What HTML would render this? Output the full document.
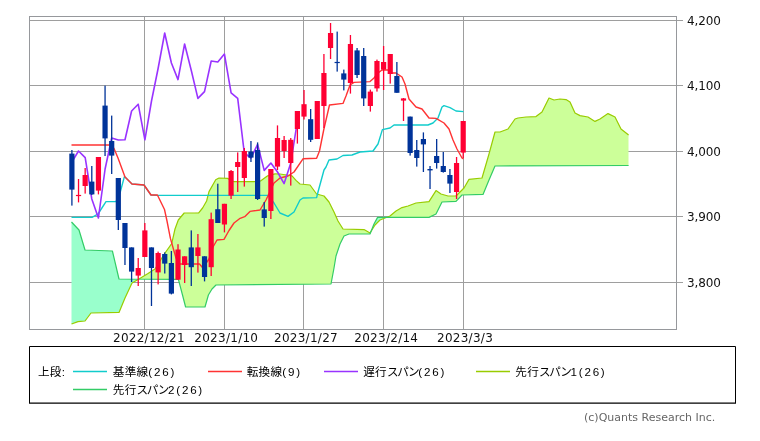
<!DOCTYPE html>
<html lang="ja"><head><meta charset="utf-8"><title>chart</title>
<style>
html,body{margin:0;padding:0;background:#fff;}
svg{display:block;}
.num{font-family:"DejaVu Sans","Liberation Sans",sans-serif;font-size:12px;fill:#111;}
.yl{letter-spacing:-0.15px;}
.xl{letter-spacing:0.27px;}
.jp{font-family:"Liberation Sans","Noto Sans CJK JP","IPAGothic",sans-serif;font-size:11.6px;fill:#000;letter-spacing:0.25px;}
.kt{letter-spacing:-1.3px;}
.lt{letter-spacing:1.8px;}
.cp{font-family:"DejaVu Sans","Liberation Sans",sans-serif;font-size:11px;fill:#666;}
</style></head><body>
<svg width="760" height="441" viewBox="0 0 760 441">
<rect x="0" y="0" width="760" height="441" fill="#fff"/>
<g shape-rendering="crispEdges">
<rect x="30" y="20" width="653" height="1" fill="#9e9e9e"/>
<rect x="30" y="85" width="653" height="1" fill="#9e9e9e"/>
<rect x="30" y="151" width="653" height="1" fill="#9e9e9e"/>
<rect x="30" y="216" width="653" height="1" fill="#9e9e9e"/>
<rect x="30" y="282" width="653" height="1" fill="#9e9e9e"/>
<rect x="144" y="17" width="1" height="312" fill="#9e9e9e"/>
<rect x="224" y="17" width="1" height="312" fill="#9e9e9e"/>
<rect x="303" y="17" width="1" height="312" fill="#9e9e9e"/>
<rect x="383" y="17" width="1" height="312" fill="#9e9e9e"/>
<rect x="463" y="17" width="1" height="312" fill="#9e9e9e"/>
</g>
<g>
<polygon fill="#99ffcc" points="71.5,324.0 72.0,323.8 72.5,323.6 73.0,323.4 73.5,323.3 74.0,323.1 74.5,322.9 75.0,322.7 75.5,322.5 76.0,322.3 76.5,322.2 77.0,322.0 77.5,321.8 78.0,321.6 78.5,321.6 79.0,321.5 79.5,321.5 80.0,321.4 80.5,321.4 81.0,321.3 81.5,321.3 82.0,321.3 82.5,321.2 83.0,321.2 83.5,321.1 84.0,321.1 84.5,321.0 85.0,321.0 85.5,320.3 86.0,319.7 86.5,319.0 87.0,318.3 87.5,317.7 88.0,317.0 88.5,316.3 89.0,315.7 89.5,315.0 90.0,314.3 90.5,313.7 91.0,313.0 91.5,313.0 92.0,313.0 92.5,313.0 93.0,313.0 93.5,312.9 94.0,312.9 94.5,312.9 95.0,312.9 95.5,312.9 96.0,312.9 96.5,312.9 97.0,312.9 97.5,312.9 98.0,312.9 98.5,312.8 99.0,312.8 99.5,312.8 100.0,312.8 100.5,312.8 101.0,312.8 101.5,312.8 102.0,312.8 102.5,312.8 103.0,312.7 103.5,312.7 104.0,312.7 104.5,312.7 105.0,312.7 105.5,312.7 106.0,312.7 106.5,312.7 107.0,312.7 107.5,312.6 108.0,312.6 108.5,312.6 109.0,312.6 109.5,312.6 110.0,312.6 110.5,312.6 111.0,312.6 111.5,312.6 112.0,312.5 112.5,312.5 113.0,312.5 113.5,312.5 114.0,312.5 114.5,312.5 115.0,312.5 115.5,312.5 116.0,312.5 116.5,312.5 117.0,312.4 117.5,312.4 118.0,312.4 118.5,312.4 119.0,312.4 119.5,311.2 120.0,310.0 120.5,308.8 121.0,307.6 121.5,306.4 122.0,305.2 122.5,304.0 123.0,302.8 123.5,301.6 124.0,300.4 124.5,299.2 125.0,298.0 125.5,296.9 126.0,295.9 126.5,294.8 127.0,293.7 127.5,292.6 128.0,291.6 128.5,290.5 129.0,289.4 129.5,288.4 130.0,287.3 130.5,286.2 131.0,285.1 131.5,284.1 132.0,283.0 132.5,282.7 133.0,282.4 133.5,282.1 134.0,281.9 134.5,281.6 135.0,281.3 135.5,281.0 136.0,280.7 136.5,280.4 137.0,280.1 137.5,279.9 138.0,279.6 138.5,279.3 138.5,279.1 138.0,279.1 137.5,279.1 137.0,279.1 136.5,279.1 136.0,279.1 135.5,279.1 135.0,279.1 134.5,279.1 134.0,279.1 133.5,279.1 133.0,279.1 132.5,279.1 132.0,279.1 131.5,279.1 131.0,279.1 130.5,279.1 130.0,279.1 129.5,279.1 129.0,279.1 128.5,279.0 128.0,279.0 127.5,279.0 127.0,279.0 126.5,279.0 126.0,279.0 125.5,279.0 125.0,279.0 124.5,279.0 124.0,279.0 123.5,279.0 123.0,279.0 122.5,279.0 122.0,279.0 121.5,279.0 121.0,279.0 120.5,279.0 120.0,279.0 119.5,279.0 119.0,279.0 118.5,276.9 118.0,274.8 117.5,272.6 117.0,270.5 116.5,268.4 116.0,266.3 115.5,264.2 115.0,262.0 114.5,259.9 114.0,257.8 113.5,255.7 113.0,253.5 112.5,251.4 112.0,251.0 111.5,251.0 111.0,250.9 110.5,250.9 110.0,250.9 109.5,250.9 109.0,250.9 108.5,250.9 108.0,250.8 107.5,250.8 107.0,250.8 106.5,250.8 106.0,250.8 105.5,250.7 105.0,250.7 104.5,250.7 104.0,250.7 103.5,250.7 103.0,250.7 102.5,250.6 102.0,250.6 101.5,250.6 101.0,250.6 100.5,250.6 100.0,250.5 99.5,250.5 99.0,250.5 98.5,250.5 98.0,250.5 97.5,250.5 97.0,250.4 96.5,250.4 96.0,250.4 95.5,250.4 95.0,250.4 94.5,250.3 94.0,250.3 93.5,250.3 93.0,250.3 92.5,250.3 92.0,250.3 91.5,250.2 91.0,250.2 90.5,250.2 90.0,250.2 89.5,250.2 89.0,250.1 88.5,250.1 88.0,250.1 87.5,250.1 87.0,250.1 86.5,250.1 86.0,250.0 85.5,250.0 85.0,250.0 84.5,248.3 84.0,246.7 83.5,245.0 83.0,243.3 82.5,241.7 82.0,240.0 81.5,238.3 81.0,236.7 80.5,235.0 80.0,233.3 79.5,231.7 79.0,230.0 78.5,229.5 78.0,228.9 77.5,228.4 77.0,227.9 76.5,227.3 76.0,226.8 75.5,226.3 75.0,225.7 74.5,225.2 74.0,224.7 73.5,224.1 73.0,223.6 72.5,223.1 72.0,222.5 71.5,222.0"/>
<polygon fill="#ccff99" points="138.5,279.3 139.0,279.0 139.5,278.7 140.0,278.4 140.5,278.1 141.0,277.8 141.5,277.5 142.0,277.2 142.5,276.9 143.0,276.6 143.5,276.3 144.0,276.0 144.5,275.7 145.0,275.4 145.5,275.1 146.0,274.8 146.5,274.5 147.0,274.2 147.5,273.9 148.0,273.6 148.5,273.3 149.0,272.9 149.5,272.6 150.0,272.3 150.5,272.0 151.0,271.6 151.5,271.3 152.0,271.0 152.5,270.6 153.0,270.3 153.5,270.0 154.0,269.7 154.5,269.3 155.0,269.0 155.5,268.2 156.0,267.4 156.5,266.6 157.0,265.8 157.5,265.0 158.0,264.2 158.5,263.4 159.0,262.6 159.5,261.8 160.0,261.0 160.5,260.2 161.0,259.4 161.5,258.6 162.0,257.8 162.5,257.0 163.0,256.2 163.5,255.4 164.0,254.6 164.5,253.8 165.0,253.0 165.5,252.3 166.0,251.6 166.5,250.9 167.0,250.2 167.5,249.5 168.0,248.8 168.5,248.1 169.0,247.4 169.5,246.8 170.0,246.1 170.5,245.4 171.0,244.7 171.5,244.0 172.0,242.4 172.5,240.1 173.0,237.9 173.5,235.7 174.0,233.5 174.5,231.2 175.0,229.0 175.5,227.6 176.0,226.3 176.5,224.9 177.0,223.5 177.5,222.2 178.0,220.8 178.5,219.8 179.0,219.2 179.5,218.6 180.0,218.0 180.5,217.4 181.0,216.8 181.5,216.2 182.0,215.6 182.5,215.0 183.0,214.4 183.5,213.8 184.0,213.2 184.5,213.0 185.0,213.0 185.5,213.0 186.0,213.0 186.5,213.0 187.0,213.0 187.5,213.0 188.0,212.9 188.5,212.9 189.0,212.9 189.5,212.9 190.0,212.9 190.5,212.9 191.0,212.9 191.5,212.9 192.0,212.9 192.5,212.9 193.0,212.9 193.5,212.9 194.0,212.9 194.5,212.9 195.0,212.9 195.5,212.8 196.0,212.8 196.5,212.8 197.0,212.8 197.5,212.8 198.0,212.8 198.5,212.8 199.0,212.4 199.5,211.8 200.0,211.2 200.5,210.6 201.0,210.0 201.5,209.4 202.0,208.7 202.5,208.1 203.0,207.3 203.5,206.4 204.0,205.5 204.5,204.7 205.0,203.8 205.5,202.9 206.0,202.0 206.5,201.2 207.0,199.4 207.5,197.5 208.0,195.5 208.5,193.6 209.0,191.6 209.5,190.7 210.0,189.8 210.5,188.9 211.0,188.0 211.5,187.2 212.0,186.3 212.5,185.4 213.0,184.5 213.5,183.6 214.0,182.7 214.5,181.8 215.0,180.9 215.5,180.1 216.0,179.5 216.5,179.3 217.0,179.0 217.5,178.8 218.0,178.5 218.5,178.3 219.0,178.0 219.5,178.0 220.0,178.0 220.5,178.1 221.0,178.1 221.5,178.1 222.0,178.1 222.5,178.2 223.0,178.2 223.5,178.2 224.0,178.2 224.5,178.3 225.0,178.3 225.5,178.3 226.0,178.3 226.5,178.3 227.0,178.4 227.5,178.4 228.0,178.6 228.5,178.9 229.0,179.1 229.5,179.4 230.0,179.6 230.5,179.9 231.0,180.2 231.5,180.4 232.0,180.7 232.5,180.9 233.0,181.2 233.5,181.4 234.0,181.7 234.5,181.7 235.0,181.7 235.5,181.7 236.0,181.7 236.5,181.7 237.0,181.7 237.5,181.7 238.0,181.7 238.5,181.7 239.0,181.7 239.5,181.7 240.0,181.7 240.5,181.7 241.0,181.7 241.5,181.7 242.0,181.7 242.5,181.7 243.0,181.7 243.5,181.7 244.0,181.7 244.5,181.7 245.0,181.7 245.5,181.7 246.0,181.7 246.5,181.7 247.0,181.7 247.5,181.7 248.0,181.7 248.5,181.7 249.0,181.7 249.5,181.7 250.0,181.7 250.5,181.7 251.0,181.7 251.5,181.7 252.0,181.7 252.5,181.7 253.0,181.7 253.5,181.7 254.0,181.7 254.5,181.6 255.0,181.6 255.5,181.5 256.0,181.5 256.5,181.4 257.0,181.4 257.5,181.3 258.0,181.3 258.5,181.2 259.0,181.2 259.5,181.1 260.0,181.1 260.5,181.0 261.0,180.6 261.5,180.3 262.0,179.9 262.5,179.6 263.0,179.2 263.5,178.8 264.0,178.5 264.5,178.1 265.0,177.8 265.5,177.4 266.0,177.0 266.5,176.7 267.0,176.3 267.5,175.9 268.0,175.7 268.5,175.6 269.0,175.4 269.5,175.3 270.0,175.2 270.5,175.0 271.0,174.9 271.5,174.8 272.0,174.6 272.5,174.5 273.0,174.3 273.5,174.2 274.0,174.1 274.5,173.9 275.0,173.8 275.5,173.8 276.0,173.8 276.5,173.9 277.0,173.9 277.5,173.9 278.0,173.9 278.5,173.9 279.0,174.0 279.5,174.0 280.0,174.0 280.5,174.1 281.0,174.2 281.5,174.2 282.0,174.3 282.5,174.4 283.0,174.4 283.5,174.5 284.0,174.6 284.5,174.7 285.0,174.8 285.5,174.8 286.0,174.9 286.5,175.0 287.0,175.1 287.5,175.1 288.0,175.2 288.5,175.3 289.0,175.4 289.5,175.4 290.0,175.5 290.5,175.6 291.0,175.7 291.5,175.7 292.0,175.8 292.5,176.4 293.0,177.0 293.5,177.5 294.0,178.1 294.5,178.7 295.0,179.2 295.5,179.8 296.0,180.4 296.5,180.8 297.0,181.3 297.5,181.8 298.0,182.2 298.5,182.7 299.0,183.1 299.5,183.6 300.0,184.0 300.5,184.1 301.0,184.1 301.5,184.2 302.0,184.2 302.5,184.2 303.0,184.3 303.5,184.3 304.0,184.4 304.5,184.4 305.0,184.5 305.5,184.6 306.0,184.6 306.5,184.7 307.0,184.7 307.5,184.8 308.0,184.8 308.5,184.8 309.0,184.9 309.5,184.9 310.0,185.0 310.5,185.7 311.0,186.4 311.5,187.0 312.0,187.7 312.5,188.4 313.0,189.1 313.5,189.8 314.0,190.5 314.5,191.1 315.0,191.8 315.5,192.5 316.0,193.2 316.5,193.9 317.0,194.1 317.5,194.2 318.0,194.4 318.5,194.5 319.0,194.6 319.5,194.8 320.0,194.9 320.5,195.1 321.0,195.2 321.5,195.3 322.0,195.5 322.5,195.6 323.0,195.7 323.5,195.9 324.0,196.0 324.5,196.6 325.0,197.2 325.5,197.8 326.0,198.4 326.5,199.0 327.0,199.6 327.5,200.2 328.0,200.8 328.5,201.4 329.0,202.0 329.5,203.0 330.0,204.0 330.5,205.0 331.0,206.0 331.5,207.0 332.0,208.0 332.5,209.0 333.0,210.0 333.5,211.0 334.0,212.0 334.5,213.1 335.0,214.2 335.5,215.4 336.0,216.5 336.5,217.6 337.0,218.8 337.5,219.9 338.0,221.0 338.5,221.8 339.0,222.6 339.5,223.4 340.0,224.2 340.5,225.0 341.0,225.8 341.5,226.6 342.0,227.4 342.5,228.2 343.0,229.0 343.5,229.0 344.0,229.0 344.5,229.0 345.0,229.1 345.5,229.1 346.0,229.1 346.5,229.1 347.0,229.1 347.5,229.1 348.0,229.1 348.5,229.2 349.0,229.2 349.5,229.2 350.0,229.2 350.5,229.2 351.0,229.2 351.5,229.2 352.0,229.3 352.5,229.3 353.0,229.3 353.5,229.3 354.0,229.3 354.5,229.3 355.0,229.3 355.5,229.4 356.0,229.4 356.5,229.4 357.0,229.4 357.5,229.4 358.0,229.4 358.5,229.4 359.0,229.5 359.5,229.5 360.0,229.5 360.5,229.5 361.0,229.5 361.5,229.5 362.0,229.5 362.5,229.6 363.0,229.6 363.5,229.6 364.0,229.6 364.5,229.9 365.0,230.2 365.5,230.4 366.0,230.7 366.5,231.0 367.0,231.3 367.5,231.6 368.0,231.9 368.5,232.2 369.0,232.4 369.5,232.7 370.0,233.0 370.5,232.2 371.0,231.4 371.0,231.5 370.5,232.8 370.0,234.0 369.5,234.0 369.0,234.0 368.5,234.0 368.0,234.0 367.5,234.0 367.0,234.0 366.5,234.0 366.0,234.0 365.5,234.0 365.0,234.0 364.5,234.0 364.0,234.0 363.5,234.0 363.0,234.0 362.5,234.0 362.0,234.0 361.5,234.0 361.0,234.0 360.5,234.0 360.0,234.0 359.5,234.0 359.0,234.0 358.5,234.0 358.0,234.0 357.5,234.0 357.0,234.0 356.5,234.0 356.0,234.0 355.5,234.0 355.0,234.0 354.5,234.0 354.0,234.0 353.5,234.0 353.0,234.0 352.5,234.0 352.0,234.0 351.5,234.0 351.0,234.0 350.5,234.0 350.0,234.0 349.5,234.0 349.0,234.0 348.5,234.2 348.0,234.4 347.5,234.6 347.0,234.8 346.5,235.0 346.0,235.2 345.5,235.4 345.0,235.6 344.5,235.8 344.0,236.0 343.5,237.0 343.0,238.0 342.5,239.0 342.0,240.0 341.5,241.0 341.0,242.0 340.5,243.0 340.0,244.0 339.5,245.5 339.0,247.0 338.5,248.5 338.0,250.0 337.5,251.5 337.0,253.0 336.5,254.5 336.0,256.0 335.5,259.0 335.0,262.0 334.5,265.0 334.0,268.0 333.5,270.7 333.0,273.3 332.5,276.0 332.0,278.7 331.5,281.3 331.0,284.0 330.5,284.0 330.0,284.0 329.5,284.0 329.0,284.0 328.5,284.0 328.0,284.0 327.5,284.0 327.0,284.0 326.5,284.0 326.0,284.0 325.5,284.0 325.0,284.1 324.5,284.1 324.0,284.1 323.5,284.1 323.0,284.1 322.5,284.1 322.0,284.1 321.5,284.1 321.0,284.1 320.5,284.1 320.0,284.1 319.5,284.1 319.0,284.1 318.5,284.1 318.0,284.1 317.5,284.1 317.0,284.1 316.5,284.1 316.0,284.1 315.5,284.1 315.0,284.1 314.5,284.1 314.0,284.1 313.5,284.2 313.0,284.2 312.5,284.2 312.0,284.2 311.5,284.2 311.0,284.2 310.5,284.2 310.0,284.2 309.5,284.2 309.0,284.2 308.5,284.2 308.0,284.2 307.5,284.2 307.0,284.2 306.5,284.2 306.0,284.2 305.5,284.2 305.0,284.2 304.5,284.2 304.0,284.2 303.5,284.2 303.0,284.2 302.5,284.2 302.0,284.3 301.5,284.3 301.0,284.3 300.5,284.3 300.0,284.3 299.5,284.3 299.0,284.3 298.5,284.3 298.0,284.3 297.5,284.3 297.0,284.3 296.5,284.3 296.0,284.3 295.5,284.3 295.0,284.3 294.5,284.3 294.0,284.3 293.5,284.3 293.0,284.3 292.5,284.3 292.0,284.3 291.5,284.3 291.0,284.3 290.5,284.4 290.0,284.4 289.5,284.4 289.0,284.4 288.5,284.4 288.0,284.4 287.5,284.4 287.0,284.4 286.5,284.4 286.0,284.4 285.5,284.4 285.0,284.4 284.5,284.4 284.0,284.4 283.5,284.4 283.0,284.4 282.5,284.4 282.0,284.4 281.5,284.4 281.0,284.4 280.5,284.4 280.0,284.4 279.5,284.4 279.0,284.5 278.5,284.5 278.0,284.5 277.5,284.5 277.0,284.5 276.5,284.5 276.0,284.5 275.5,284.5 275.0,284.5 274.5,284.5 274.0,284.5 273.5,284.5 273.0,284.5 272.5,284.5 272.0,284.5 271.5,284.5 271.0,284.5 270.5,284.5 270.0,284.5 269.5,284.5 269.0,284.5 268.5,284.5 268.0,284.5 267.5,284.6 267.0,284.6 266.5,284.6 266.0,284.6 265.5,284.6 265.0,284.6 264.5,284.6 264.0,284.6 263.5,284.6 263.0,284.6 262.5,284.6 262.0,284.6 261.5,284.6 261.0,284.6 260.5,284.6 260.0,284.6 259.5,284.6 259.0,284.6 258.5,284.6 258.0,284.6 257.5,284.6 257.0,284.6 256.5,284.6 256.0,284.7 255.5,284.7 255.0,284.7 254.5,284.7 254.0,284.7 253.5,284.7 253.0,284.7 252.5,284.7 252.0,284.7 251.5,284.7 251.0,284.7 250.5,284.7 250.0,284.7 249.5,284.7 249.0,284.7 248.5,284.7 248.0,284.7 247.5,284.7 247.0,284.7 246.5,284.7 246.0,284.7 245.5,284.7 245.0,284.7 244.5,284.8 244.0,284.8 243.5,284.8 243.0,284.8 242.5,284.8 242.0,284.8 241.5,284.8 241.0,284.8 240.5,284.8 240.0,284.8 239.5,284.8 239.0,284.8 238.5,284.8 238.0,284.8 237.5,284.8 237.0,284.8 236.5,284.8 236.0,284.8 235.5,284.8 235.0,284.8 234.5,284.8 234.0,284.8 233.5,284.8 233.0,284.9 232.5,284.9 232.0,284.9 231.5,284.9 231.0,284.9 230.5,284.9 230.0,284.9 229.5,284.9 229.0,284.9 228.5,284.9 228.0,284.9 227.5,284.9 227.0,284.9 226.5,284.9 226.0,284.9 225.5,284.9 225.0,284.9 224.5,284.9 224.0,284.9 223.5,284.9 223.0,284.9 222.5,284.9 222.0,284.9 221.5,285.0 221.0,285.0 220.5,285.0 220.0,285.0 219.5,285.0 219.0,285.0 218.5,285.0 218.0,285.0 217.5,285.0 217.0,285.0 216.5,285.0 216.0,285.0 215.5,285.5 215.0,286.0 214.5,286.5 214.0,287.0 213.5,287.5 213.0,288.0 212.5,288.5 212.0,289.0 211.5,289.8 211.0,290.7 210.5,291.5 210.0,292.3 209.5,293.2 209.0,294.0 208.5,294.8 208.0,296.4 207.5,298.2 207.0,299.9 206.5,301.7 206.0,303.5 205.5,305.2 205.0,307.0 204.5,307.0 204.0,307.0 203.5,307.0 203.0,307.0 202.5,307.0 202.0,307.0 201.5,307.0 201.0,307.0 200.5,307.0 200.0,307.0 199.5,307.0 199.0,307.0 198.5,307.0 198.0,307.0 197.5,307.0 197.0,307.0 196.5,307.0 196.0,307.0 195.5,307.0 195.0,307.0 194.5,307.0 194.0,307.0 193.5,307.0 193.0,307.0 192.5,307.0 192.0,307.0 191.5,307.0 191.0,307.0 190.5,307.0 190.0,307.0 189.5,307.0 189.0,307.0 188.5,307.0 188.0,307.0 187.5,307.0 187.0,307.0 186.5,307.0 186.0,307.0 185.5,306.6 185.0,304.7 184.5,302.7 184.0,300.8 183.5,298.9 183.0,296.9 182.5,295.0 182.0,293.1 181.5,291.2 181.0,289.3 180.5,287.3 180.0,285.4 179.5,283.5 179.0,281.6 178.5,279.7 178.0,279.3 177.5,279.3 177.0,279.3 176.5,279.3 176.0,279.3 175.5,279.3 175.0,279.3 174.5,279.3 174.0,279.3 173.5,279.3 173.0,279.3 172.5,279.3 172.0,279.3 171.5,279.3 171.0,279.3 170.5,279.3 170.0,279.3 169.5,279.3 169.0,279.3 168.5,279.2 168.0,279.2 167.5,279.2 167.0,279.2 166.5,279.2 166.0,279.2 165.5,279.2 165.0,279.2 164.5,279.2 164.0,279.2 163.5,279.2 163.0,279.2 162.5,279.2 162.0,279.2 161.5,279.2 161.0,279.2 160.5,279.2 160.0,279.2 159.5,279.2 159.0,279.2 158.5,279.2 158.0,279.2 157.5,279.2 157.0,279.2 156.5,279.2 156.0,279.2 155.5,279.2 155.0,279.2 154.5,279.2 154.0,279.2 153.5,279.2 153.0,279.2 152.5,279.2 152.0,279.2 151.5,279.2 151.0,279.2 150.5,279.2 150.0,279.2 149.5,279.2 149.0,279.2 148.5,279.1 148.0,279.1 147.5,279.1 147.0,279.1 146.5,279.1 146.0,279.1 145.5,279.1 145.0,279.1 144.5,279.1 144.0,279.1 143.5,279.1 143.0,279.1 142.5,279.1 142.0,279.1 141.5,279.1 141.0,279.1 140.5,279.1 140.0,279.1 139.5,279.1 139.0,279.1 138.5,279.1"/>
<polygon fill="#99ffcc" points="371.0,231.4 371.5,230.6 372.0,229.8 372.5,229.0 373.0,228.2 373.5,227.4 374.0,226.6 374.5,225.8 375.0,225.0 375.5,224.5 376.0,224.0 376.5,223.5 377.0,223.0 377.5,222.5 378.0,222.0 378.5,221.5 379.0,221.0 379.5,220.5 380.0,220.0 380.5,219.8 381.0,219.6 381.5,219.4 382.0,219.2 382.5,219.0 383.0,218.8 383.5,218.6 384.0,218.4 384.5,218.2 385.0,218.0 385.5,217.8 386.0,217.6 386.0,217.4 385.5,217.4 385.0,217.4 384.5,217.4 384.0,217.4 383.5,217.4 383.0,217.4 382.5,217.4 382.0,217.4 381.5,217.4 381.0,217.4 380.5,217.4 380.0,217.4 379.5,217.4 379.0,217.4 378.5,217.4 378.0,217.4 377.5,217.6 377.0,218.5 376.5,219.4 376.0,220.3 375.5,221.3 375.0,222.2 374.5,223.1 374.0,224.0 373.5,225.2 373.0,226.5 372.5,227.8 372.0,229.0 371.5,230.2 371.0,231.5"/>
<polygon fill="#ccff99" points="386.0,217.6 386.5,217.4 387.0,217.2 387.5,217.0 388.0,216.8 388.5,216.6 389.0,216.4 389.5,216.2 390.0,216.0 390.5,215.6 391.0,215.2 391.5,214.8 392.0,214.3 392.5,213.9 393.0,213.5 393.5,213.1 394.0,212.7 394.5,212.2 395.0,211.8 395.5,211.4 396.0,211.0 396.5,210.7 397.0,210.4 397.5,210.2 398.0,209.9 398.5,209.6 399.0,209.3 399.5,209.0 400.0,208.7 400.5,208.4 401.0,208.2 401.5,207.9 402.0,207.6 402.5,207.5 403.0,207.3 403.5,207.2 404.0,207.1 404.5,206.9 405.0,206.8 405.5,206.7 406.0,206.5 406.5,206.4 407.0,206.3 407.5,206.1 408.0,206.0 408.5,205.8 409.0,205.6 409.5,205.4 410.0,205.2 410.5,205.1 411.0,204.9 411.5,204.7 412.0,204.5 412.5,204.3 413.0,204.1 413.5,203.9 414.0,203.8 414.5,203.6 415.0,203.4 415.5,203.2 416.0,203.0 416.5,202.9 417.0,202.9 417.5,202.8 418.0,202.8 418.5,202.7 419.0,202.7 419.5,202.6 420.0,202.6 420.5,202.5 421.0,202.5 421.5,202.4 422.0,202.4 422.5,202.3 423.0,202.2 423.5,202.2 424.0,202.1 424.5,202.1 425.0,202.0 425.5,202.0 426.0,201.9 426.5,201.9 427.0,201.8 427.5,201.8 428.0,201.7 428.5,201.7 429.0,201.6 429.5,200.8 430.0,200.0 430.5,199.2 431.0,198.5 431.5,197.7 432.0,196.9 432.5,196.1 433.0,195.3 433.5,194.5 434.0,193.7 434.5,193.0 435.0,192.2 435.5,191.4 436.0,190.6 436.5,190.9 437.0,191.3 437.5,191.6 438.0,192.0 438.5,192.3 439.0,192.6 439.5,193.0 440.0,193.3 440.5,193.7 441.0,194.0 441.5,194.1 442.0,194.3 442.5,194.4 443.0,194.6 443.5,194.7 444.0,194.9 444.5,195.0 445.0,195.1 445.5,195.3 446.0,195.4 446.5,195.6 447.0,195.7 447.5,195.9 448.0,196.0 448.5,196.0 449.0,196.0 449.5,196.0 450.0,196.0 450.5,196.0 451.0,196.0 451.5,196.0 452.0,196.0 452.5,196.0 453.0,196.0 453.5,196.0 454.0,196.0 454.5,196.0 455.0,196.0 455.5,196.0 456.0,196.0 456.5,195.5 457.0,195.0 457.5,194.5 458.0,194.0 458.5,193.5 459.0,193.0 459.5,192.5 460.0,192.0 460.5,191.5 461.0,191.0 461.5,190.5 462.0,190.0 462.5,189.5 463.0,189.0 463.5,188.5 464.0,188.0 464.5,187.1 465.0,186.3 465.5,185.4 466.0,184.6 466.5,183.7 467.0,182.8 467.5,182.0 468.0,181.1 468.5,180.3 469.0,179.4 469.5,179.3 470.0,179.3 470.5,179.2 471.0,179.2 471.5,179.1 472.0,179.1 472.5,179.0 473.0,179.0 473.5,178.9 474.0,178.9 474.5,178.8 475.0,178.8 475.5,178.7 476.0,178.6 476.5,178.6 477.0,178.5 477.5,178.5 478.0,178.4 478.5,178.4 479.0,178.3 479.5,178.3 480.0,178.2 480.5,178.2 481.0,178.1 481.5,178.1 482.0,178.0 482.5,176.3 483.0,174.6 483.5,172.9 484.0,171.1 484.5,169.4 485.0,167.7 485.5,166.0 486.0,164.3 486.5,162.6 487.0,160.9 487.5,159.1 488.0,157.4 488.5,155.7 489.0,154.0 489.5,152.2 490.0,150.3 490.5,148.5 491.0,146.7 491.5,144.8 492.0,143.0 492.5,141.2 493.0,139.3 493.5,137.5 494.0,135.7 494.5,133.8 495.0,132.0 495.5,132.0 496.0,132.0 496.5,132.0 497.0,132.0 497.5,132.0 498.0,132.0 498.5,132.0 499.0,132.0 499.5,132.0 500.0,132.0 500.5,131.8 501.0,131.6 501.5,131.4 502.0,131.2 502.5,131.1 503.0,130.9 503.5,130.7 504.0,130.5 504.5,130.3 505.0,130.1 505.5,129.9 506.0,129.8 506.5,129.6 507.0,129.4 507.5,129.2 508.0,129.0 508.5,128.3 509.0,127.6 509.5,126.9 510.0,126.1 510.5,125.4 511.0,124.7 511.5,124.0 512.0,123.3 512.5,122.6 513.0,121.9 513.5,121.1 514.0,120.4 514.5,119.7 515.0,119.0 515.5,118.8 516.0,118.7 516.5,118.5 517.0,118.3 517.5,118.2 518.0,118.0 518.5,117.9 519.0,117.9 519.5,117.8 520.0,117.8 520.5,117.7 521.0,117.6 521.5,117.6 522.0,117.5 522.5,117.4 523.0,117.4 523.5,117.3 524.0,117.2 524.5,117.2 525.0,117.1 525.5,117.1 526.0,117.0 526.5,117.0 527.0,117.0 527.5,116.9 528.0,116.9 528.5,116.9 529.0,116.9 529.5,116.9 530.0,116.8 530.5,116.8 531.0,116.8 531.5,116.8 532.0,116.8 532.5,116.7 533.0,116.7 533.5,116.7 534.0,116.7 534.5,116.7 535.0,116.6 535.5,116.6 536.0,116.6 536.5,116.2 537.0,115.8 537.5,115.4 538.0,115.1 538.5,114.7 539.0,114.3 539.5,113.9 540.0,113.5 540.5,113.2 541.0,112.8 541.5,112.4 542.0,112.0 542.5,111.0 543.0,110.0 543.5,109.0 544.0,108.0 544.5,107.0 545.0,106.0 545.5,105.0 546.0,104.0 546.5,103.0 547.0,102.0 547.5,101.0 548.0,100.0 548.5,99.0 549.0,98.0 549.5,98.2 550.0,98.4 550.5,98.6 551.0,98.8 551.5,99.0 552.0,99.2 552.5,99.4 553.0,99.6 553.5,99.8 554.0,100.0 554.5,99.9 555.0,99.8 555.5,99.8 556.0,99.7 556.5,99.6 557.0,99.5 557.5,99.4 558.0,99.3 558.5,99.2 559.0,99.2 559.5,99.1 560.0,99.0 560.5,99.0 561.0,99.1 561.5,99.2 562.0,99.2 562.5,99.2 563.0,99.3 563.5,99.3 564.0,99.4 564.5,99.4 565.0,99.5 565.5,99.5 566.0,99.6 566.5,99.9 567.0,100.2 567.5,100.5 568.0,100.8 568.5,101.1 569.0,101.4 569.5,101.7 570.0,102.0 570.5,103.1 571.0,104.2 571.5,105.3 572.0,106.4 572.5,107.5 573.0,108.6 573.5,109.7 574.0,110.8 574.5,111.9 575.0,113.0 575.5,113.3 576.0,113.5 576.5,113.8 577.0,114.0 577.5,114.3 578.0,114.6 578.5,114.8 579.0,115.1 579.5,115.3 580.0,115.6 580.5,115.7 581.0,115.8 581.5,115.9 582.0,115.9 582.5,116.0 583.0,116.1 583.5,116.2 584.0,116.3 584.5,116.4 585.0,116.5 585.5,116.6 586.0,116.7 586.5,116.7 587.0,116.8 587.5,116.9 588.0,117.0 588.5,117.3 589.0,117.6 589.5,117.9 590.0,118.3 590.5,118.6 591.0,118.9 591.5,119.2 592.0,119.5 592.5,119.8 593.0,120.1 593.5,120.5 594.0,120.8 594.5,121.1 595.0,121.4 595.5,121.2 596.0,120.9 596.5,120.7 597.0,120.4 597.5,120.2 598.0,120.0 598.5,119.7 599.0,119.5 599.5,119.2 600.0,119.0 600.5,118.7 601.0,118.3 601.5,118.0 602.0,117.7 602.5,117.3 603.0,117.0 603.5,116.6 604.0,116.3 604.5,116.0 605.0,115.6 605.5,115.3 606.0,114.9 606.5,114.6 607.0,114.3 607.5,113.9 608.0,113.6 608.5,113.8 609.0,114.1 609.5,114.3 610.0,114.6 610.5,114.8 611.0,115.1 611.5,115.3 612.0,115.5 612.5,115.8 613.0,116.0 613.5,116.3 614.0,116.5 614.5,116.8 615.0,117.0 615.5,118.0 616.0,119.0 616.5,120.0 617.0,121.0 617.5,122.0 618.0,123.0 618.5,124.0 619.0,125.0 619.5,126.0 620.0,127.0 620.5,128.0 621.0,129.0 621.5,129.4 622.0,129.8 622.5,130.2 623.0,130.6 623.5,131.0 624.0,131.4 624.5,131.8 625.0,132.2 625.5,132.6 626.0,132.9 626.5,133.3 627.0,133.7 627.5,134.1 628.0,134.5 628.5,134.9 628.5,165.5 628.0,165.5 627.5,165.5 627.0,165.5 626.5,165.5 626.0,165.5 625.5,165.5 625.0,165.5 624.5,165.5 624.0,165.5 623.5,165.5 623.0,165.5 622.5,165.5 622.0,165.5 621.5,165.5 621.0,165.5 620.5,165.5 620.0,165.5 619.5,165.5 619.0,165.5 618.5,165.5 618.0,165.5 617.5,165.5 617.0,165.5 616.5,165.5 616.0,165.5 615.5,165.5 615.0,165.6 614.5,165.6 614.0,165.6 613.5,165.6 613.0,165.6 612.5,165.6 612.0,165.6 611.5,165.6 611.0,165.6 610.5,165.6 610.0,165.6 609.5,165.6 609.0,165.6 608.5,165.6 608.0,165.6 607.5,165.6 607.0,165.6 606.5,165.6 606.0,165.6 605.5,165.6 605.0,165.6 604.5,165.6 604.0,165.6 603.5,165.6 603.0,165.6 602.5,165.6 602.0,165.6 601.5,165.6 601.0,165.6 600.5,165.6 600.0,165.6 599.5,165.6 599.0,165.6 598.5,165.6 598.0,165.6 597.5,165.6 597.0,165.6 596.5,165.6 596.0,165.6 595.5,165.6 595.0,165.6 594.5,165.6 594.0,165.6 593.5,165.6 593.0,165.6 592.5,165.6 592.0,165.6 591.5,165.6 591.0,165.6 590.5,165.6 590.0,165.6 589.5,165.6 589.0,165.6 588.5,165.7 588.0,165.7 587.5,165.7 587.0,165.7 586.5,165.7 586.0,165.7 585.5,165.7 585.0,165.7 584.5,165.7 584.0,165.7 583.5,165.7 583.0,165.7 582.5,165.7 582.0,165.7 581.5,165.7 581.0,165.7 580.5,165.7 580.0,165.7 579.5,165.7 579.0,165.7 578.5,165.7 578.0,165.7 577.5,165.7 577.0,165.7 576.5,165.7 576.0,165.7 575.5,165.7 575.0,165.7 574.5,165.7 574.0,165.7 573.5,165.7 573.0,165.7 572.5,165.7 572.0,165.7 571.5,165.7 571.0,165.7 570.5,165.7 570.0,165.7 569.5,165.7 569.0,165.7 568.5,165.7 568.0,165.7 567.5,165.7 567.0,165.7 566.5,165.7 566.0,165.7 565.5,165.7 565.0,165.7 564.5,165.7 564.0,165.7 563.5,165.7 563.0,165.7 562.5,165.7 562.0,165.7 561.5,165.8 561.0,165.8 560.5,165.8 560.0,165.8 559.5,165.8 559.0,165.8 558.5,165.8 558.0,165.8 557.5,165.8 557.0,165.8 556.5,165.8 556.0,165.8 555.5,165.8 555.0,165.8 554.5,165.8 554.0,165.8 553.5,165.8 553.0,165.8 552.5,165.8 552.0,165.8 551.5,165.8 551.0,165.8 550.5,165.8 550.0,165.8 549.5,165.8 549.0,165.8 548.5,165.8 548.0,165.8 547.5,165.8 547.0,165.8 546.5,165.8 546.0,165.8 545.5,165.8 545.0,165.8 544.5,165.8 544.0,165.8 543.5,165.8 543.0,165.8 542.5,165.8 542.0,165.8 541.5,165.8 541.0,165.8 540.5,165.8 540.0,165.8 539.5,165.8 539.0,165.8 538.5,165.8 538.0,165.8 537.5,165.8 537.0,165.8 536.5,165.8 536.0,165.8 535.5,165.8 535.0,165.9 534.5,165.9 534.0,165.9 533.5,165.9 533.0,165.9 532.5,165.9 532.0,165.9 531.5,165.9 531.0,165.9 530.5,165.9 530.0,165.9 529.5,165.9 529.0,165.9 528.5,165.9 528.0,165.9 527.5,165.9 527.0,165.9 526.5,165.9 526.0,165.9 525.5,165.9 525.0,165.9 524.5,165.9 524.0,165.9 523.5,165.9 523.0,165.9 522.5,165.9 522.0,165.9 521.5,165.9 521.0,165.9 520.5,165.9 520.0,165.9 519.5,165.9 519.0,165.9 518.5,165.9 518.0,165.9 517.5,165.9 517.0,165.9 516.5,165.9 516.0,165.9 515.5,165.9 515.0,165.9 514.5,165.9 514.0,165.9 513.5,165.9 513.0,165.9 512.5,165.9 512.0,165.9 511.5,165.9 511.0,165.9 510.5,165.9 510.0,165.9 509.5,165.9 509.0,165.9 508.5,165.9 508.0,166.0 507.5,166.0 507.0,166.0 506.5,166.0 506.0,166.0 505.5,166.0 505.0,166.0 504.5,166.0 504.0,166.0 503.5,166.0 503.0,166.0 502.5,166.0 502.0,166.0 501.5,166.0 501.0,166.0 500.5,166.0 500.0,166.0 499.5,166.0 499.0,166.0 498.5,166.0 498.0,166.0 497.5,166.0 497.0,166.0 496.5,166.0 496.0,166.0 495.5,166.0 495.0,166.0 494.5,167.2 494.0,168.3 493.5,169.5 493.0,170.7 492.5,171.8 492.0,173.0 491.5,174.2 491.0,175.3 490.5,176.5 490.0,177.7 489.5,178.8 489.0,180.0 488.5,181.2 488.0,182.4 487.5,183.6 487.0,184.8 486.5,186.0 486.0,187.2 485.5,188.4 485.0,189.6 484.5,190.8 484.0,192.0 483.5,193.2 483.0,194.4 482.5,194.4 482.0,194.4 481.5,194.4 481.0,194.5 480.5,194.5 480.0,194.5 479.5,194.5 479.0,194.5 478.5,194.5 478.0,194.5 477.5,194.6 477.0,194.6 476.5,194.6 476.0,194.6 475.5,194.6 475.0,194.6 474.5,194.6 474.0,194.7 473.5,194.7 473.0,194.7 472.5,194.7 472.0,194.7 471.5,194.7 471.0,194.7 470.5,194.8 470.0,194.8 469.5,194.8 469.0,194.8 468.5,194.8 468.0,194.8 467.5,194.8 467.0,194.9 466.5,194.9 466.0,194.9 465.5,194.9 465.0,194.9 464.5,194.9 464.0,194.9 463.5,195.0 463.0,195.0 462.5,195.0 462.0,195.0 461.5,195.5 461.0,196.1 460.5,196.6 460.0,197.1 459.5,197.7 459.0,198.2 458.5,198.7 458.0,199.3 457.5,199.8 457.0,200.3 456.5,200.9 456.0,201.4 455.5,201.4 455.0,201.4 454.5,201.5 454.0,201.5 453.5,201.5 453.0,201.5 452.5,201.6 452.0,201.6 451.5,201.6 451.0,201.6 450.5,201.6 450.0,201.7 449.5,201.7 449.0,201.7 448.5,201.7 448.0,201.7 447.5,201.8 447.0,201.8 446.5,201.8 446.0,201.8 445.5,201.8 445.0,201.9 444.5,201.9 444.0,201.9 443.5,201.9 443.0,202.0 442.5,202.0 442.0,202.0 441.5,203.0 441.0,204.0 440.5,205.0 440.0,206.0 439.5,207.0 439.0,208.0 438.5,209.0 438.0,210.0 437.5,211.0 437.0,212.0 436.5,213.0 436.0,214.0 435.5,214.2 435.0,214.5 434.5,214.7 434.0,215.0 433.5,215.2 433.0,215.5 432.5,215.7 432.0,215.9 431.5,216.2 431.0,216.4 430.5,216.7 430.0,216.9 429.5,217.2 429.0,217.4 428.5,217.4 428.0,217.4 427.5,217.4 427.0,217.4 426.5,217.4 426.0,217.4 425.5,217.4 425.0,217.4 424.5,217.4 424.0,217.4 423.5,217.4 423.0,217.4 422.5,217.4 422.0,217.4 421.5,217.4 421.0,217.4 420.5,217.4 420.0,217.4 419.5,217.4 419.0,217.4 418.5,217.4 418.0,217.4 417.5,217.4 417.0,217.4 416.5,217.4 416.0,217.4 415.5,217.4 415.0,217.4 414.5,217.4 414.0,217.4 413.5,217.4 413.0,217.4 412.5,217.4 412.0,217.4 411.5,217.4 411.0,217.4 410.5,217.4 410.0,217.4 409.5,217.4 409.0,217.4 408.5,217.4 408.0,217.4 407.5,217.4 407.0,217.4 406.5,217.4 406.0,217.4 405.5,217.4 405.0,217.4 404.5,217.4 404.0,217.4 403.5,217.4 403.0,217.4 402.5,217.4 402.0,217.4 401.5,217.4 401.0,217.4 400.5,217.4 400.0,217.4 399.5,217.4 399.0,217.4 398.5,217.4 398.0,217.4 397.5,217.4 397.0,217.4 396.5,217.4 396.0,217.4 395.5,217.4 395.0,217.4 394.5,217.4 394.0,217.4 393.5,217.4 393.0,217.4 392.5,217.4 392.0,217.4 391.5,217.4 391.0,217.4 390.5,217.4 390.0,217.4 389.5,217.4 389.0,217.4 388.5,217.4 388.0,217.4 387.5,217.4 387.0,217.4 386.5,217.4 386.0,217.4"/>
</g>
<g shape-rendering="crispEdges">

<rect x="29.5" y="16.5" width="647.3" height="312.7" fill="none" stroke="#96989c" stroke-width="1"/>
</g>
<g>
<polyline fill="none" stroke="#99cc00" stroke-width="1.2" stroke-linejoin="round" points="71.5,324.0 78.0,321.6 85.0,321.0 91.0,313.0 119.0,312.4 125.0,298.0 132.0,283.0 139.0,279.0 148.0,273.6 155.0,269.0 165.0,253.0 171.7,243.7 175.0,229.0 178.3,220.0 184.2,213.0 198.7,212.8 202.6,208.0 206.6,201.0 209.0,191.6 215.7,179.7 219.0,178.0 227.6,178.4 234.0,181.7 254.0,181.7 260.5,181.0 267.7,175.8 275.0,173.8 280.0,174.0 292.0,175.8 296.0,180.4 300.0,184.0 310.0,185.0 316.6,194.0 324.0,196.0 329.0,202.0 334.0,212.0 338.0,221.0 343.0,229.0 364.0,229.6 370.0,233.0 375.0,225.0 380.0,220.0 390.0,216.0 396.0,211.0 402.0,207.6 408.0,206.0 416.0,203.0 429.0,201.6 436.0,190.6 441.0,194.0 448.0,196.0 456.0,196.0 464.0,188.0 469.0,179.4 482.0,178.0 489.0,154.0 495.0,132.0 500.0,132.0 508.0,129.0 515.0,119.0 518.0,118.0 526.0,117.0 536.0,116.6 542.0,112.0 549.0,98.0 554.0,100.0 560.0,99.0 566.0,99.6 570.0,102.0 575.0,113.0 580.0,115.6 588.0,117.0 595.0,121.4 600.0,119.0 608.0,113.6 615.0,117.0 621.0,129.0 628.6,135.0"/>
<polyline fill="none" stroke="#33cc66" stroke-width="1.2" stroke-linejoin="round" points="71.5,222.0 79.0,230.0 85.0,250.0 112.4,251.0 119.0,279.0 178.4,279.3 182.5,295.0 185.6,307.0 205.0,307.0 208.4,295.0 212.0,289.0 216.0,285.0 331.0,284.0 334.0,268.0 336.0,256.0 340.0,244.0 344.0,236.0 349.0,234.0 370.0,234.0 374.0,224.0 377.6,217.4 429.0,217.4 436.0,214.0 442.0,202.0 456.0,201.4 462.0,195.0 483.0,194.4 489.0,180.0 495.0,166.0 628.6,165.5"/>
<polyline fill="none" stroke="#11cccc" stroke-width="1.4" stroke-linejoin="round" points="71.5,217.4 92.0,217.4 98.0,214.0 106.0,201.6 116.0,201.6 120.0,193.0 124.4,176.6 125.0,177.0 132.0,184.0 144.0,185.0 151.0,195.0 157.4,195.4 268.0,195.4 274.0,203.0 280.0,213.0 288.0,216.4 294.0,212.0 300.0,200.0 303.0,198.0 316.6,197.6 318.0,192.0 324.0,170.0 326.0,167.0 329.0,160.0 337.0,159.0 343.0,155.5 352.0,155.0 360.0,152.0 373.0,151.0 378.0,144.0 382.4,129.6 390.0,128.0 394.0,125.0 428.0,125.0 433.0,123.0 438.0,118.0 442.0,107.0 444.0,105.6 450.0,107.6 456.0,111.0 463.5,111.6"/>
<polyline fill="none" stroke="#ff3333" stroke-width="1.4" stroke-linejoin="round" points="71.5,145.0 109.4,145.0 114.0,148.4 118.0,158.0 125.0,177.0 132.0,184.0 144.0,185.0 151.0,195.0 157.4,195.0 164.5,209.5 167.0,221.0 170.4,238.4 173.7,250.0 176.0,258.0 179.0,264.0 199.5,264.0 202.0,267.0 207.0,262.0 209.0,259.0 213.0,247.0 217.0,240.0 224.0,239.4 229.0,230.5 234.0,223.0 239.5,218.7 244.7,216.7 250.0,211.4 260.0,210.0 266.0,200.0 274.0,183.0 280.0,178.0 288.0,176.0 294.0,172.0 303.0,158.8 316.6,158.2 319.5,151.0 323.7,130.0 329.5,105.0 343.0,103.4 346.0,96.0 350.0,85.0 354.0,82.4 370.0,81.6 374.0,78.0 378.0,73.0 382.0,70.0 388.0,70.0 392.0,73.0 396.0,73.0 402.0,77.0 405.0,84.0 409.0,99.0 416.0,107.0 422.0,109.0 429.0,118.0 436.0,118.4 444.0,123.0 449.0,129.0 453.0,140.0 457.0,149.0 462.0,158.0 463.5,159.0"/>
<polyline fill="none" stroke="#9933ff" stroke-width="1.6" stroke-linejoin="round" points="71.9,162.0 78.5,151.0 85.2,157.6 91.8,199.0 98.4,218.0 105.1,169.0 111.7,138.0 118.3,140.0 125.0,139.8 131.6,111.0 138.2,104.2 144.9,139.8 151.5,101.0 158.1,68.5 164.7,33.0 171.4,63.0 178.0,79.6 184.6,44.0 191.3,70.5 197.9,98.4 204.5,91.6 211.2,61.0 217.8,62.0 224.4,54.0 231.1,92.8 237.7,98.4 244.3,153.0 251.0,158.0 257.6,144.4 264.2,170.4 270.9,163.0 277.5,172.0 284.1,183.6 290.8,163.0 297.4,121.0"/>
</g>
<g>
<rect x="71.25" y="150.0" width="1.3" height="55.6" fill="#003399"/>
<rect x="69.30" y="153.6" width="5.2" height="36.0" fill="#003399"/>
<rect x="77.88" y="179.0" width="1.3" height="23.4" fill="#ff0033"/>
<rect x="75.93" y="194.9" width="5.2" height="1.2" fill="#ff0033"/>
<rect x="84.51" y="168.0" width="1.3" height="25.6" fill="#ff0033"/>
<rect x="82.56" y="175.0" width="5.2" height="11.0" fill="#ff0033"/>
<rect x="91.15" y="166.0" width="1.3" height="29.0" fill="#003399"/>
<rect x="89.20" y="181.6" width="5.2" height="12.8" fill="#003399"/>
<rect x="97.78" y="157.0" width="1.3" height="37.4" fill="#ff0033"/>
<rect x="95.83" y="157.0" width="5.2" height="33.6" fill="#ff0033"/>
<rect x="104.41" y="85.6" width="1.3" height="70.4" fill="#003399"/>
<rect x="102.46" y="105.6" width="5.2" height="32.8" fill="#003399"/>
<rect x="111.04" y="115.6" width="1.3" height="58.4" fill="#003399"/>
<rect x="109.09" y="141.0" width="5.2" height="14.6" fill="#003399"/>
<rect x="117.67" y="178.0" width="1.3" height="52.0" fill="#003399"/>
<rect x="115.72" y="178.0" width="5.2" height="42.0" fill="#003399"/>
<rect x="124.31" y="223.0" width="1.3" height="42.0" fill="#003399"/>
<rect x="122.36" y="223.0" width="5.2" height="25.0" fill="#003399"/>
<rect x="130.94" y="247.4" width="1.3" height="34.6" fill="#003399"/>
<rect x="128.99" y="247.4" width="5.2" height="24.2" fill="#003399"/>
<rect x="137.57" y="258.0" width="1.3" height="28.0" fill="#ff0033"/>
<rect x="135.62" y="268.0" width="5.2" height="7.6" fill="#ff0033"/>
<rect x="144.20" y="223.0" width="1.3" height="34.0" fill="#ff0033"/>
<rect x="142.25" y="230.4" width="5.2" height="26.6" fill="#ff0033"/>
<rect x="150.83" y="247.4" width="1.3" height="58.6" fill="#003399"/>
<rect x="148.88" y="247.4" width="5.2" height="20.6" fill="#003399"/>
<rect x="157.47" y="251.6" width="1.3" height="32.8" fill="#ff0033"/>
<rect x="155.52" y="253.0" width="5.2" height="19.4" fill="#ff0033"/>
<rect x="164.10" y="252.4" width="1.3" height="21.1" fill="#003399"/>
<rect x="162.15" y="254.0" width="5.2" height="9.6" fill="#003399"/>
<rect x="170.73" y="251.0" width="1.3" height="43.4" fill="#003399"/>
<rect x="168.78" y="263.0" width="5.2" height="30.6" fill="#003399"/>
<rect x="177.36" y="244.2" width="1.3" height="35.5" fill="#ff0033"/>
<rect x="175.41" y="249.5" width="5.2" height="30.2" fill="#ff0033"/>
<rect x="183.99" y="256.3" width="1.3" height="26.7" fill="#ff0033"/>
<rect x="182.04" y="256.3" width="5.2" height="8.7" fill="#ff0033"/>
<rect x="190.63" y="230.4" width="1.3" height="55.6" fill="#003399"/>
<rect x="188.68" y="247.4" width="5.2" height="19.8" fill="#003399"/>
<rect x="197.26" y="234.0" width="1.3" height="38.6" fill="#ff0033"/>
<rect x="195.31" y="247.4" width="5.2" height="8.6" fill="#ff0033"/>
<rect x="203.89" y="256.3" width="1.3" height="25.1" fill="#003399"/>
<rect x="201.94" y="256.3" width="5.2" height="20.7" fill="#003399"/>
<rect x="210.52" y="212.6" width="1.3" height="63.4" fill="#ff0033"/>
<rect x="208.57" y="219.2" width="5.2" height="48.0" fill="#ff0033"/>
<rect x="217.15" y="183.7" width="1.3" height="39.3" fill="#003399"/>
<rect x="215.20" y="209.2" width="5.2" height="13.8" fill="#003399"/>
<rect x="223.79" y="203.8" width="1.3" height="28.6" fill="#ff0033"/>
<rect x="221.84" y="203.8" width="5.2" height="20.7" fill="#ff0033"/>
<rect x="230.42" y="170.0" width="1.3" height="29.0" fill="#ff0033"/>
<rect x="228.47" y="171.0" width="5.2" height="24.6" fill="#ff0033"/>
<rect x="237.05" y="152.4" width="1.3" height="39.6" fill="#ff0033"/>
<rect x="235.10" y="162.0" width="5.2" height="5.0" fill="#ff0033"/>
<rect x="243.68" y="148.0" width="1.3" height="38.6" fill="#ff0033"/>
<rect x="241.73" y="151.0" width="5.2" height="27.0" fill="#ff0033"/>
<rect x="250.31" y="141.0" width="1.3" height="21.0" fill="#003399"/>
<rect x="248.36" y="151.6" width="5.2" height="6.0" fill="#003399"/>
<rect x="256.95" y="142.4" width="1.3" height="57.6" fill="#003399"/>
<rect x="255.00" y="150.0" width="5.2" height="49.0" fill="#003399"/>
<rect x="263.58" y="202.0" width="1.3" height="24.6" fill="#003399"/>
<rect x="261.63" y="209.4" width="5.2" height="8.6" fill="#003399"/>
<rect x="270.21" y="169.0" width="1.3" height="50.0" fill="#ff0033"/>
<rect x="268.26" y="169.0" width="5.2" height="42.0" fill="#ff0033"/>
<rect x="276.84" y="125.4" width="1.3" height="44.6" fill="#ff0033"/>
<rect x="274.89" y="138.0" width="5.2" height="28.6" fill="#ff0033"/>
<rect x="283.47" y="136.0" width="1.3" height="22.0" fill="#ff0033"/>
<rect x="281.52" y="140.0" width="5.2" height="11.0" fill="#ff0033"/>
<rect x="290.11" y="138.0" width="1.3" height="47.6" fill="#ff0033"/>
<rect x="288.16" y="139.8" width="5.2" height="23.2" fill="#ff0033"/>
<rect x="296.74" y="111.0" width="1.3" height="32.6" fill="#ff0033"/>
<rect x="294.79" y="111.0" width="5.2" height="18.0" fill="#ff0033"/>
<rect x="303.37" y="90.0" width="1.3" height="29.5" fill="#ff0033"/>
<rect x="301.42" y="104.2" width="5.2" height="12.4" fill="#ff0033"/>
<rect x="310.00" y="109.0" width="1.3" height="33.0" fill="#003399"/>
<rect x="308.05" y="119.2" width="5.2" height="20.6" fill="#003399"/>
<rect x="316.63" y="101.0" width="1.3" height="38.0" fill="#ff0033"/>
<rect x="314.68" y="101.0" width="5.2" height="38.0" fill="#ff0033"/>
<rect x="323.27" y="54.0" width="1.3" height="74.0" fill="#ff0033"/>
<rect x="321.32" y="73.0" width="5.2" height="33.0" fill="#ff0033"/>
<rect x="329.90" y="23.0" width="1.3" height="36.0" fill="#ff0033"/>
<rect x="327.95" y="33.0" width="5.2" height="15.0" fill="#ff0033"/>
<rect x="336.53" y="31.6" width="1.3" height="40.0" fill="#003399"/>
<rect x="334.58" y="61.9" width="5.2" height="1.2" fill="#003399"/>
<rect x="343.16" y="69.6" width="1.3" height="20.8" fill="#003399"/>
<rect x="341.21" y="73.4" width="5.2" height="6.2" fill="#003399"/>
<rect x="349.79" y="35.0" width="1.3" height="58.6" fill="#ff0033"/>
<rect x="347.84" y="44.0" width="5.2" height="39.0" fill="#ff0033"/>
<rect x="356.43" y="48.0" width="1.3" height="30.0" fill="#003399"/>
<rect x="354.48" y="50.4" width="5.2" height="24.6" fill="#003399"/>
<rect x="363.06" y="48.0" width="1.3" height="58.0" fill="#003399"/>
<rect x="361.11" y="56.0" width="5.2" height="42.4" fill="#003399"/>
<rect x="369.69" y="89.6" width="1.3" height="22.0" fill="#ff0033"/>
<rect x="367.74" y="91.6" width="5.2" height="14.4" fill="#ff0033"/>
<rect x="376.32" y="59.6" width="1.3" height="32.0" fill="#ff0033"/>
<rect x="374.37" y="61.0" width="5.2" height="27.4" fill="#ff0033"/>
<rect x="382.95" y="46.0" width="1.3" height="44.0" fill="#ff0033"/>
<rect x="381.00" y="62.0" width="5.2" height="7.6" fill="#ff0033"/>
<rect x="389.59" y="54.0" width="1.3" height="29.6" fill="#ff0033"/>
<rect x="387.64" y="54.0" width="5.2" height="20.0" fill="#ff0033"/>
<rect x="396.22" y="62.0" width="1.3" height="30.8" fill="#003399"/>
<rect x="394.27" y="76.0" width="5.2" height="16.8" fill="#003399"/>
<rect x="402.85" y="98.0" width="1.3" height="23.0" fill="#ff0033"/>
<rect x="400.90" y="98.4" width="5.2" height="2.2" fill="#ff0033"/>
<rect x="409.48" y="116.6" width="1.3" height="39.0" fill="#003399"/>
<rect x="407.53" y="116.6" width="5.2" height="36.4" fill="#003399"/>
<rect x="416.11" y="140.0" width="1.3" height="26.6" fill="#003399"/>
<rect x="414.16" y="150.0" width="5.2" height="8.0" fill="#003399"/>
<rect x="422.75" y="132.4" width="1.3" height="39.6" fill="#003399"/>
<rect x="420.80" y="139.0" width="5.2" height="5.4" fill="#003399"/>
<rect x="429.38" y="166.0" width="1.3" height="23.0" fill="#003399"/>
<rect x="427.43" y="169.0" width="5.2" height="1.4" fill="#003399"/>
<rect x="436.01" y="139.0" width="1.3" height="29.6" fill="#003399"/>
<rect x="434.06" y="156.0" width="5.2" height="7.0" fill="#003399"/>
<rect x="442.64" y="152.0" width="1.3" height="20.6" fill="#003399"/>
<rect x="440.69" y="166.0" width="5.2" height="6.0" fill="#003399"/>
<rect x="449.27" y="169.0" width="1.3" height="24.0" fill="#003399"/>
<rect x="447.32" y="175.0" width="5.2" height="8.6" fill="#003399"/>
<rect x="455.91" y="157.0" width="1.3" height="42.0" fill="#ff0033"/>
<rect x="453.96" y="163.0" width="5.2" height="29.0" fill="#ff0033"/>
<rect x="462.54" y="121.0" width="1.3" height="37.0" fill="#ff0033"/>
<rect x="460.59" y="121.0" width="5.2" height="31.6" fill="#ff0033"/>
</g>
<g>
<text x="687.1" y="24.9" class="num yl">4,200</text>
<text x="687.1" y="89.9" class="num yl">4,100</text>
<text x="687.1" y="155.9" class="num yl">4,000</text>
<text x="687.1" y="220.9" class="num yl">3,900</text>
<text x="687.1" y="286.9" class="num yl">3,800</text>
<text x="113.0" y="341.6" class="num xl">2022/12/21</text>
<text x="194.3" y="341.6" class="num xl">2023/1/10</text>
<text x="274.0" y="341.6" class="num xl">2023/1/27</text>
<text x="354.3" y="341.6" class="num xl">2023/2/14</text>
<text x="437.0" y="341.6" class="num xl">2023/3/3</text>
</g>

<path d="M29.5 403V346.5H735.5V403" fill="none" stroke="#000" stroke-width="1"/><line x1="29" y1="403.05" x2="736" y2="403.05" stroke="#000" stroke-width="1.35"/>
<text x="38" y="375.7" class="jp">上段<tspan class="lt">:</tspan></text>
<line x1="73" y1="371.5" x2="107" y2="371.5" stroke="#11cccc" stroke-width="1.5"/>
<text x="112.8" y="375.7" class="jp">基準線<tspan class="lt">(26)</tspan></text>
<line x1="208" y1="371.5" x2="242" y2="371.5" stroke="#ff3333" stroke-width="1.5"/>
<text x="246.7" y="375.7" class="jp">転換線<tspan class="lt">(9)</tspan></text>
<line x1="324" y1="371.5" x2="358" y2="371.5" stroke="#9933ff" stroke-width="1.6"/>
<text x="363.2" y="375.7" class="jp">遅行<tspan class="kt">スパン</tspan><tspan class="lt">(26)</tspan></text>
<line x1="476" y1="371.5" x2="510" y2="371.5" stroke="#99cc00" stroke-width="1.5"/>
<text x="515.3" y="375.7" class="jp">先行<tspan class="kt">スパン</tspan><tspan class="lt">1(26)</tspan></text>
<line x1="73" y1="389.5" x2="107" y2="389.5" stroke="#33cc66" stroke-width="1.5"/>
<text x="112.8" y="393.7" class="jp">先行<tspan class="kt">スパン</tspan><tspan class="lt">2(26)</tspan></text>
<text x="584" y="421" class="cp">(c)Quants Research Inc.</text>

</svg>
</body></html>
